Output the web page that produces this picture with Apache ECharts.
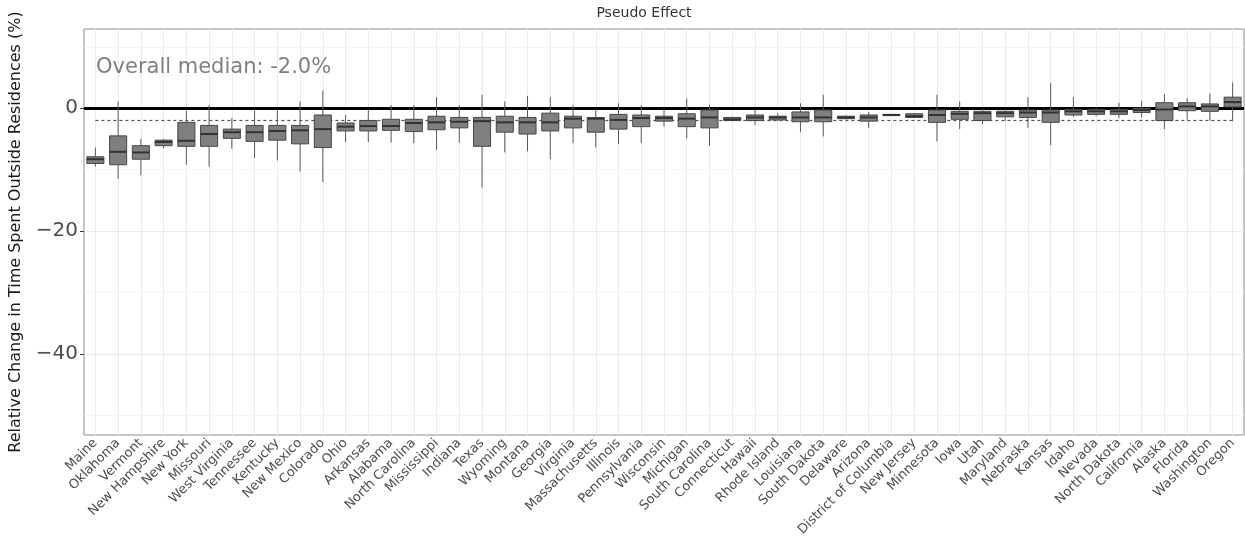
<!DOCTYPE html>
<html>
<head>
<meta charset="utf-8">
<script src="https://cdn.jsdelivr.net/npm/echarts@6/dist/echarts.min.js"></script>
<style>html,body{margin:0;padding:0;background:#fff;}#chart{width:1245px;height:548px;}</style>
</head>
<body>
<div id="chart"></div>
<script>
const categories = ["Maine","Oklahoma","Vermont","New Hampshire","New York","Missouri","West Virginia","Tennessee","Kentucky","New Mexico","Colorado","Ohio","Arkansas","Alabama","North Carolina","Mississippi","Indiana","Texas","Wyoming","Montana","Georgia","Virginia","Massachusetts","Illinois","Pennsylvania","Wisconsin","Michigan","South Carolina","Connecticut","Hawaii","Rhode Island","Louisiana","South Dakota","Delaware","Arizona","District of Columbia","New Jersey","Minnesota","Iowa","Utah","Maryland","Nebraska","Kansas","Idaho","Nevada","North Dakota","California","Alaska","Florida","Washington","Oregon"];
const whiskerLow = [-9.5,-11.5,-10.9,-6.5,-9.2,-9.5,-6.6,-8.1,-8.5,-10.3,-12.0,-5.5,-5.5,-5.6,-5.7,-6.8,-5.6,-12.9,-7.2,-7.0,-8.3,-5.7,-6.4,-5.8,-5.7,-3.0,-4.9,-6.1,-2.1,-2.7,-2.1,-3.9,-4.6,-1.8,-3.2,-1.2,-1.6,-5.4,-3.4,-2.6,-2.1,-3.2,-6.0,-1.4,-1.3,-1.6,-1.5,-3.4,-1.9,-2.0,-2.1];
const q1 = [-9.0,-9.2,-8.3,-6.1,-6.2,-6.2,-4.9,-5.4,-5.2,-5.8,-6.4,-3.7,-3.7,-3.6,-3.8,-3.5,-3.2,-6.2,-3.9,-4.2,-3.7,-3.2,-3.9,-3.4,-3.0,-2.1,-3.0,-3.2,-2.0,-2.0,-1.9,-2.2,-2.2,-1.7,-2.1,-1.2,-1.5,-2.3,-1.8,-2.0,-1.4,-1.5,-2.3,-1.1,-1.0,-1.0,-0.7,-2.0,-0.4,-0.5,0.2];
const median = [-8.3,-7.1,-7.2,-5.5,-5.3,-4.2,-3.9,-3.9,-3.7,-3.6,-3.4,-3.0,-2.9,-2.9,-2.4,-2.3,-2.2,-2.1,-2.3,-2.3,-2.3,-1.7,-1.7,-1.9,-1.6,-1.6,-1.7,-1.5,-1.8,-1.5,-1.5,-1.5,-1.5,-1.5,-1.5,-1.1,-1.3,-1.1,-0.9,-0.8,-0.8,-0.7,-0.7,-0.5,-0.5,-0.5,-0.3,-0.2,0.3,0.3,1.0];
const q3 = [-7.9,-4.5,-6.1,-5.2,-2.3,-2.8,-3.4,-2.8,-2.8,-2.8,-1.1,-2.4,-2.0,-1.8,-1.8,-1.3,-1.5,-1.5,-1.3,-1.5,-0.8,-1.3,-1.5,-1.0,-1.1,-1.3,-0.9,-0.3,-1.5,-1.1,-1.3,-0.6,-0.3,-1.3,-1.1,-1.0,-0.9,-0.3,-0.5,-0.5,-0.5,-0.3,-0.3,-0.2,-0.2,-0.2,0.0,0.9,0.9,0.7,1.8];
const whiskerHigh = [-6.4,1.1,-5.0,-5.0,-0.4,0.5,-1.6,-0.3,-0.3,1.1,2.9,-1.1,-0.3,0.5,0.5,1.8,0.5,2.2,1.1,2.0,1.8,0.5,-0.3,0.8,0.5,-0.2,1.6,0.6,-1.4,-0.2,-0.8,0.8,2.2,-1.2,-0.6,-1.0,-0.8,2.2,1.1,-0.1,-0.1,1.8,4.1,1.8,0.1,0.9,1.2,2.3,1.6,2.4,4.2];
const overallMedian = -2.0;
const yTicks = [-40, -20, 0];
const yMinorLines = [-50, -30, -10, 10];
const titleText = "Pseudo Effect";
const yAxisTitle = "Relative Change in Time Spent Outside Residences (%)";
const medianText = "Overall median: -2.0%";

const FONT = "DejaVu Sans";
const boxData = categories.map((c, i) => [i, whiskerLow[i], q1[i], median[i], q3[i], whiskerHigh[i]]);

function renderBox(params, api) {
  const x = api.value(0);
  const pLo = api.coord([x, api.value(1)]);
  const pQ1 = api.coord([x, api.value(2)]);
  const pMed = api.coord([x, api.value(3)]);
  const pQ3 = api.coord([x, api.value(4)]);
  const pHi = api.coord([x, api.value(5)]);
  const bw = api.size([1, 0])[0] * 0.75;
  const cx = pMed[0];
  return {
    type: 'group',
    children: [
      {type: 'line', shape: {x1: cx, y1: pLo[1], x2: cx, y2: pQ1[1]}, style: {stroke: '#5a5a5a', lineWidth: 1}},
      {type: 'line', shape: {x1: cx, y1: pQ3[1], x2: cx, y2: pHi[1]}, style: {stroke: '#5a5a5a', lineWidth: 1}},
      {type: 'rect', shape: {x: cx - bw / 2, y: pQ3[1], width: bw, height: Math.max(pQ1[1] - pQ3[1], 1)}, style: {fill: '#7f7f7f', stroke: '#474747', lineWidth: 1}},
      {type: 'line', shape: {x1: cx - bw / 2, y1: pMed[1], x2: cx + bw / 2, y2: pMed[1]}, style: {stroke: '#333333', lineWidth: 2}}
    ]
  };
}

const chart = echarts.init(document.getElementById('chart'), null, {renderer: 'canvas'});
const option = {
  animation: false,
  backgroundColor: '#ffffff',
  textStyle: {fontFamily: FONT},
  grid: {left: 83, right: 1, top: 29, bottom: 113, show: true, borderColor: '#8c8c8c', borderWidth: 1, containLabel: false},
  graphic: [
    {type: 'text', x: 644, y: 6, style: {text: titleText, font: '14px "DejaVu Sans"', fill: '#333333', textAlign: 'center'}, z: 10},
    {type: 'text', x: 96, y: 57, style: {text: medianText, font: '21px "DejaVu Sans"', fill: '#808080'}, z: 10}
  ],
  xAxis: {
    type: 'category',
    data: categories,
    boundaryGap: true,
    axisLine: {show: false},
    axisTick: {show: true, alignWithLabel: true, length: 4, lineStyle: {color: '#333333'}},
    axisLabel: {interval: 0, rotate: 45, fontSize: 13, color: '#4d4d4d', fontFamily: FONT, margin: 6},
    splitLine: {show: false}
  },
  yAxis: {
    type: 'value',
    min: -53.2,
    max: 12.9,
    name: yAxisTitle,
    nameLocation: 'middle',
    nameRotate: 90,
    nameGap: 60,
    nameTextStyle: {fontSize: 16, color: '#1a1a1a', fontFamily: FONT},
    axisLine: {show: false},
    axisTick: {show: true, length: 4, lineStyle: {color: '#333333'}, customValues: yTicks},
    axisLabel: {fontSize: 20, color: '#4d4d4d', fontFamily: FONT, margin: 6, customValues: yTicks,
      formatter: v => v < 0 ? '\u2212' + Math.abs(v) : String(v)},
    splitLine: {show: false}
  },
  series: [
    {
      type: 'line', data: [], silent: true, z: 1,
      markLine: {
        silent: true, symbol: ['none', 'none'], label: {show: false}, animation: false,
        data: [
          ...categories.map(c => ({xAxis: c, lineStyle: {color: '#ebebeb', width: 1, type: 'solid'}})),
          ...yTicks.filter(v => v !== 0).map(v => ({yAxis: v, lineStyle: {color: '#ebebeb', width: 1, type: 'solid'}})),
          ...yMinorLines.map(v => ({yAxis: v, lineStyle: {color: '#f5f5f5', width: 1, type: 'solid'}})),
          [{coord: [categories[0], overallMedian], lineStyle: {color: '#555555', width: 1.2, type: [3, 3]}},
           {coord: [categories[categories.length - 1], overallMedian]}]
        ]
      }
    },
    {
      type: 'custom', renderItem: renderBox, data: boxData, z: 5,
      encode: {x: 0, y: [1, 2, 3, 4, 5]}
    },
    {
      type: 'line', data: [], silent: true, z: 10,
      markLine: {
        silent: true, symbol: ['none', 'none'], label: {show: false}, animation: false,
        data: [{yAxis: 0, lineStyle: {color: '#000000', width: 3, type: 'solid'}}]
      }
    }
  ]
};
chart.setOption(option);
</script>
</body>
</html>
